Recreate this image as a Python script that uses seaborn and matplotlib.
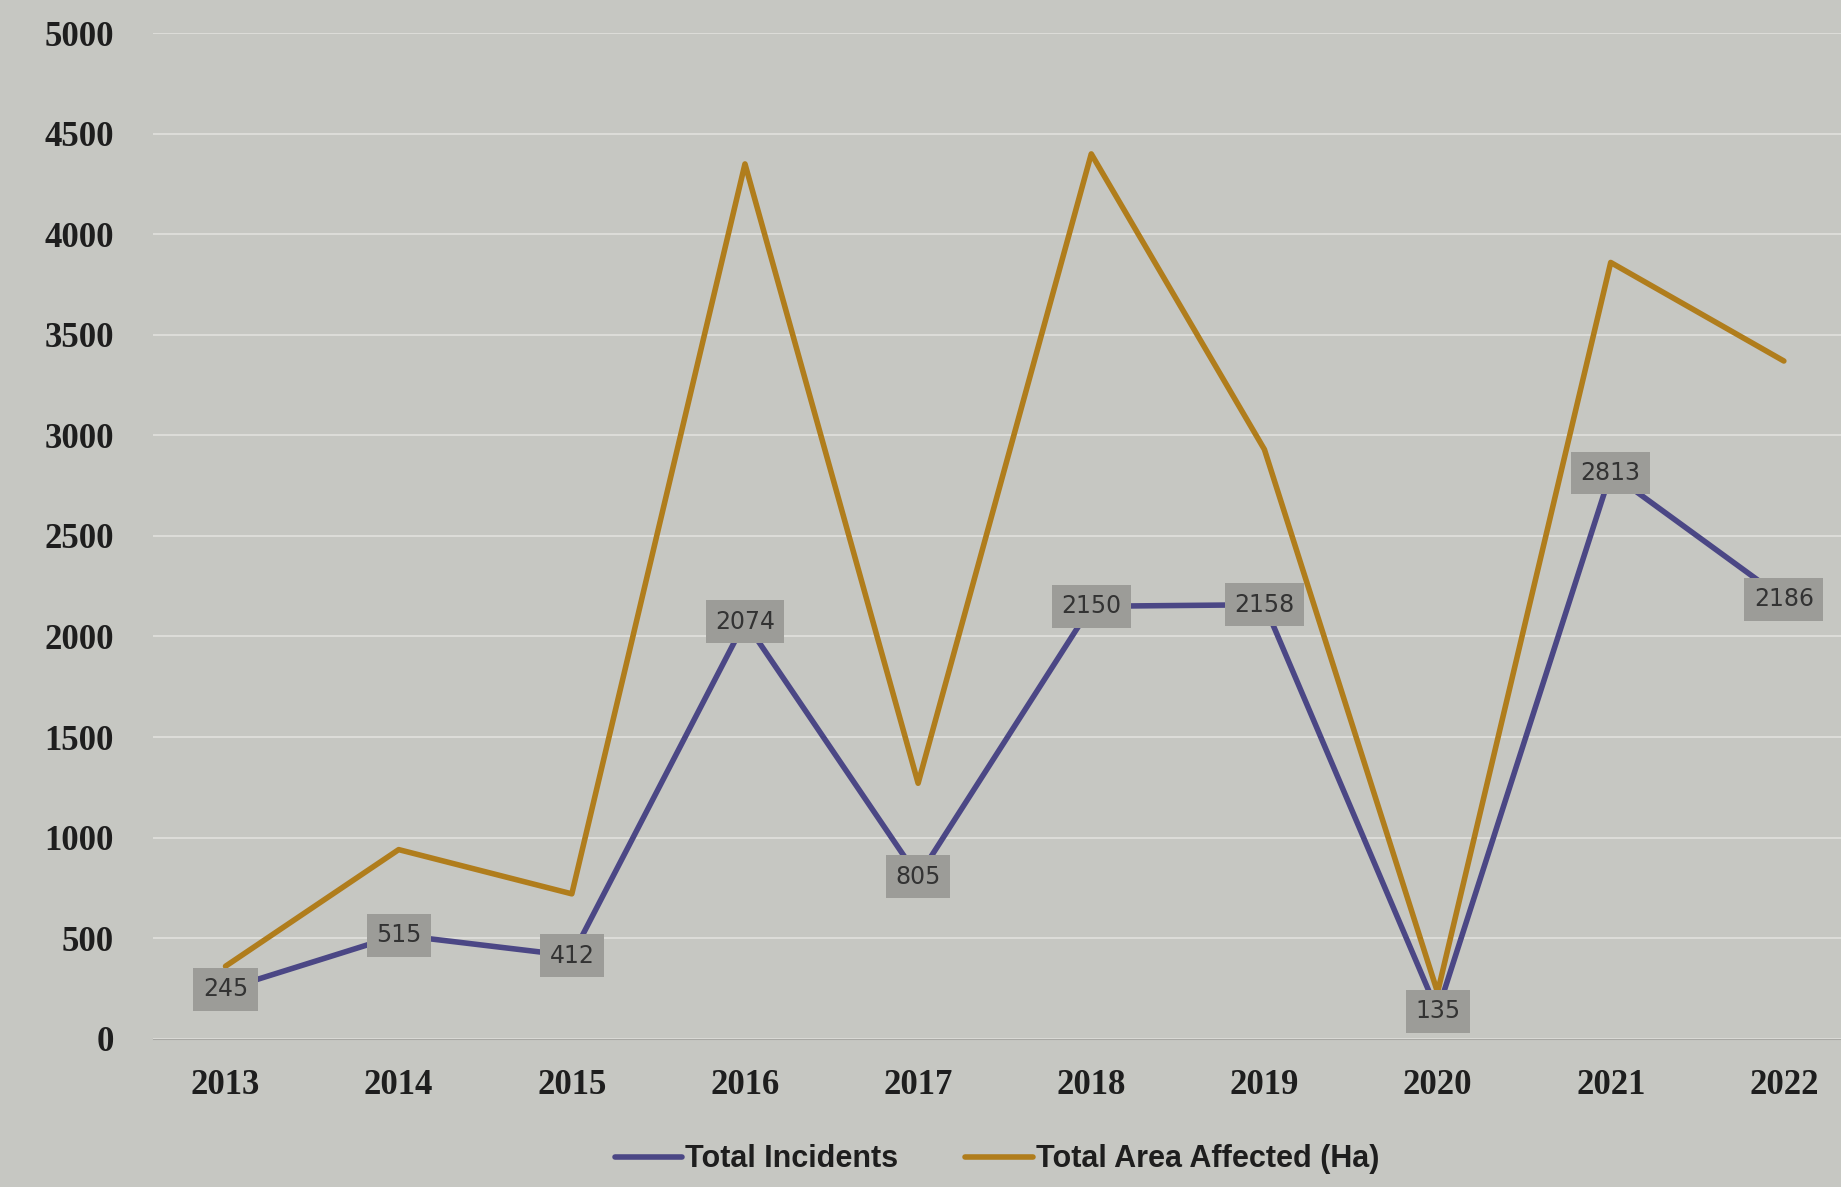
import pandas as pd
import matplotlib
matplotlib.use("Agg")
import matplotlib.pyplot as plt
import seaborn as sns

years = ["2013", "2014", "2015", "2016", "2017", "2018", "2019", "2020", "2021", "2022"]
incidents = [245, 515, 412, 2074, 805, 2150, 2158, 135, 2813, 2186]
area_ha = [360, 940, 720, 4350, 1270, 4400, 2930, 230, 3860, 3370]
yticks = [0, 500, 1000, 1500, 2000, 2500, 3000, 3500, 4000, 4500, 5000]

df = pd.DataFrame({"Year": years, "Total Incidents": incidents,
                   "Total Area Affected (Ha)": area_ha})
long_df = df.melt(id_vars="Year", var_name="Series", value_name="Value")

sns.set_style("white")
bg = "#c6c7c2"
fig, ax = plt.subplots(figsize=(18.41, 11.87), dpi=100)
fig.patch.set_facecolor(bg)
ax.set_facecolor(bg)
fig.subplots_adjust(left=0.083, right=1.0, top=0.972, bottom=0.125)

sns.lineplot(data=long_df, x="Year", y="Value", hue="Series",
             palette={"Total Incidents": "#4b4785",
                      "Total Area Affected (Ha)": "#b07d1c"},
             linewidth=4, ax=ax, sort=False)

# data labels on incidents
for i, v in enumerate(incidents):
    ax.text(i, v, str(v), ha="center", va="center", fontsize=17,
            color="#333333",
            bbox=dict(boxstyle="square,pad=0.4", fc="#9c9c98", ec="none"))

ax.set_ylim(0, 5000)
ax.set_xlim(-0.42, 9.33)
ax.set_yticks(yticks)
ax.set_yticklabels([str(t) for t in yticks], fontfamily="Liberation Serif",
                   fontweight="bold", fontsize=25, color="#1e1e1e")
ax.set_xticks(range(len(years)))
ax.set_xticklabels(years, fontfamily="Liberation Serif", fontweight="bold",
                   fontsize=25, color="#1e1e1e")
ax.tick_params(axis="y", length=0, pad=28)
ax.tick_params(axis="x", length=0, pad=22)
ax.grid(axis="y", color="#dcdcd8", linewidth=1.5)
ax.set_axisbelow(True)
for s in ["top", "right", "left"]:
    ax.spines[s].set_visible(False)
ax.spines["bottom"].set_color("#a8a8a4")
ax.set_xlabel("")
ax.set_ylabel("")

leg = ax.legend(loc="center", bbox_to_anchor=(0.5, -0.12), ncol=2,
                frameon=False, handlelength=2.2, handletextpad=0.1,
                columnspacing=2.2,
                prop={"family": "Liberation Sans", "weight": "bold", "size": 22})
for t in leg.get_texts():
    t.set_color("#1e1e1e")

fig.savefig("out.png", dpi=100, facecolor=bg)
